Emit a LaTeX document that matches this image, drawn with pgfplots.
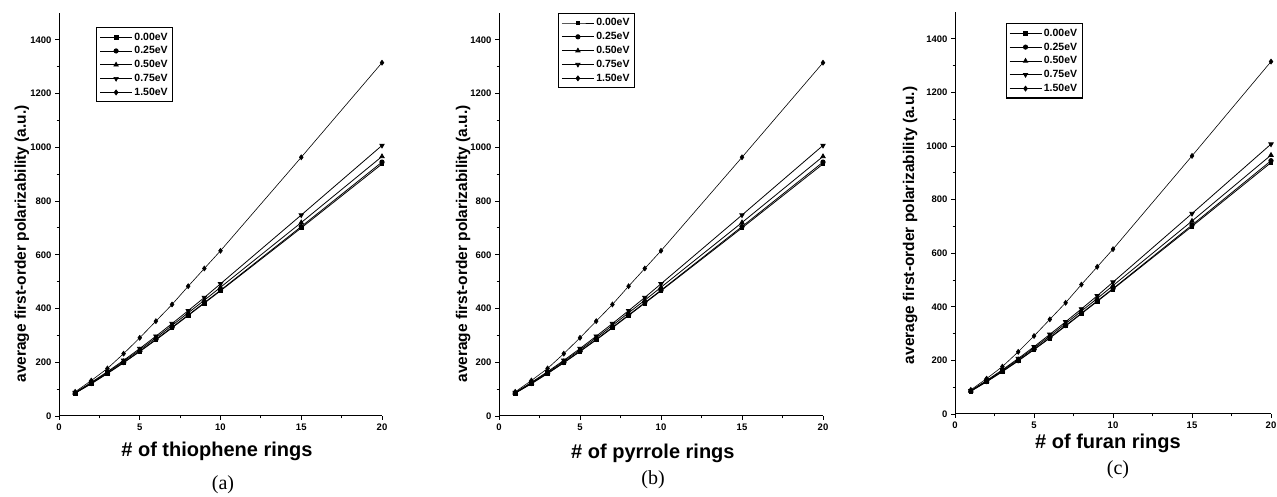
\documentclass[border=0pt]{standalone}
\usepackage{pgfplots}
\pgfplotsset{compat=1.18}
\usepackage{pgfplotstable}
\usepackage{fontspec}
\setmainfont{Liberation Sans}
\newfontfamily\capfont{Liberation Serif}

\pgfplotstableread{
n  a    b    c    d    e
1  85   85   86   87   90
2  120  121  123  125  132
3  158  159  162  165  177
4  198  199  203  207  232
5  240  241  246  251  291
6  283  285  291  297  353
7  328  330  337  344  415
8  374  376  384  392  483
9  420  422  431  441  549
10 466  468  479  492  615
15 700  705  720  748  963
20 938  945  966  1007 1315
}\datatab

\pgfplotsset{
  panel/.style={
    scale only axis,
    axis x line=bottom, axis y line=left,
    axis line style={-, line width=1pt},
    xmin=0, xmax=20, ymin=0, ymax=1500,
    xtick={0,5,10,15,20}, ytick={0,200,400,600,800,1000,1200,1400},
    minor x tick num=1, minor y tick num=1,
    tick align=outside,
    major tick length=4pt, minor tick length=2.5pt,
    every tick/.style={line width=0.9pt, black},
    /pgf/number format/assume math mode=true,
    /pgf/number format/1000 sep={},
    ticklabel style={font=\bfseries\fontsize{9.5}{10}\selectfont},
    ylabel={average first-order polarizability (a.u.)},
    ylabel style={font=\bfseries\fontsize{15.5}{16}\selectfont, anchor=center},
    xlabel style={font=\bfseries\fontsize{20}{21}\selectfont, anchor=center},
    legend cell align=left,
    legend style={font=\bfseries\fontsize{10.5}{12}\selectfont, draw=black, line width=1.2pt, inner sep=3pt, row sep=1pt, anchor=north west},
    legend image code/.code={\draw[mark repeat=2,mark phase=2, line width=0.7pt] plot coordinates {(0pt,0pt) (16pt,0pt) (32pt,0pt)};},
    every axis plot/.append style={black, line width=0.8pt, mark size=2.2pt},
  },
}

\newcommand{\plotall}{
  \addplot[mark=square*, mark size=1.8pt] table[x=n,y=a] {\datatab};
  \addlegendentry{0.00eV}
  \addplot[mark=*] table[x=n,y=b] {\datatab};
  \addlegendentry{0.25eV}
  \addplot[mark=triangle*, mark size=2.5pt] table[x=n,y=c] {\datatab};
  \addlegendentry{0.50eV}
  \addplot[mark=triangle*, mark size=2.5pt, mark options={rotate=180}] table[x=n,y=d] {\datatab};
  \addlegendentry{0.75eV}
  \addplot[mark=diamond*, mark size=2.5pt, line width=0.6pt] table[x=n,y=e] {\datatab};
  \addlegendentry{1.50eV}
}

\begin{document}
\begin{tikzpicture}
\useasboundingbox (0pt,0pt) rectangle (1277pt,497pt);

\begin{axis}[panel, at={(59pt,81pt)}, anchor=south west, width=323pt, height=403pt,
  xlabel={\# of thiophene rings},
  xlabel style={at={(rel axis cs:0.489,-0.089)}},
  ylabel style={at={(rel axis cs:-0.1146,0.427)}},
  legend style={at={(rel axis cs:0.115,0.965)}}]
\plotall
\end{axis}
\node[font=\capfont\fontsize{20}{21}\selectfont] at (223pt,12pt) {(a)};

\begin{axis}[panel, at={(499pt,81pt)}, anchor=south west, width=324pt, height=403pt,
  xlabel={\# of pyrrole rings},
  xlabel style={at={(rel axis cs:0.475,-0.092)}},
  ylabel style={at={(rel axis cs:-0.111,0.427)}},
  legend style={at={(rel axis cs:0.182,1.0)}}]
\plotall
\end{axis}
\node[font=\capfont\fontsize{20}{21}\selectfont] at (653pt,17pt) {(b)};

\begin{axis}[panel, at={(955pt,83pt)}, anchor=south west, width=316pt, height=402pt,
  xlabel={\# of furan rings},
  xlabel style={at={(rel axis cs:0.484,-0.072)}},
  ylabel style={at={(rel axis cs:-0.142,0.469)}},
  legend style={at={(rel axis cs:0.16,0.972)}}]
\plotall
\end{axis}
\node[font=\capfont\fontsize{20}{21}\selectfont] at (1118pt,27pt) {(c)};

\end{tikzpicture}
\end{document}
